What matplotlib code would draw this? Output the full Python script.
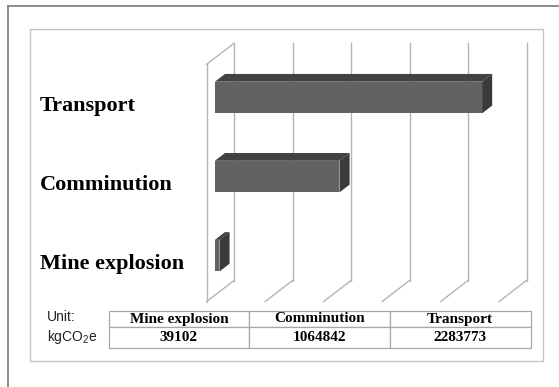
import matplotlib
matplotlib.use('Agg')
import matplotlib.pyplot as plt
from matplotlib.patches import Polygon, Rectangle
from matplotlib.lines import Line2D
import matplotlib.transforms as mtransforms

# ---- data ----
categories = ['Mine explosion', 'Comminution', 'Transport']
values = [39102, 1064842, 2283773]
x_ticks = [0, 500000, 1000000, 1500000, 2000000, 2500000]
unit_lines = ['Unit:', 'kgCO$_2$e']

plt.rcParams['mathtext.fontset'] = 'custom'
plt.rcParams['mathtext.rm'] = 'Liberation Sans'
plt.rcParams['mathtext.it'] = 'Liberation Sans'
plt.rcParams['mathtext.default'] = 'regular'

W, H, DPI = 559, 387, 100
fig = plt.figure(figsize=(W / DPI, H / DPI), dpi=DPI)
fig.patch.set_facecolor('white')


def fx(px):
    return px / W


def fy(py):
    return 1 - py / H


# outer and inner frames
fig.add_artist(Line2D([fx(8), fx(8)], [fy(5.5), 0], transform=fig.transFigure,
                      color='#8c8c8c', lw=1.4))
fig.add_artist(Line2D([fx(8), 1], [fy(5.5), fy(5.5)], transform=fig.transFigure,
                      color='#8c8c8c', lw=1.4))
fig.add_artist(Rectangle((fx(30), fy(360.7)), fx(543) - fx(30), fy(29.3) - fy(360.7),
                         transform=fig.transFigure, fill=False, ec='#c4c4c4', lw=1.0))

# main (front-plane) axes
ax = fig.add_axes([fx(206.7), fy(301.5), fx(499.2) - fx(206.7), fy(64.3) - fy(301.5)])
ax.set_xlim(x_ticks[0], x_ticks[-1])
ax.set_ylim(0, len(categories))
ax.axis('off')

# depth vector (pixels) converted to data units
px_per_x = ax.bbox.width / (x_ticks[-1] - x_ticks[0])
px_per_y = ax.bbox.height / len(categories)
DX = 27.3 / px_per_x
DY = 21.0 / px_per_y
ymax = len(categories)

grid_kw = dict(color='#b4b4b4', lw=1.0, clip_on=False, zorder=1)
for v in x_ticks:
    ax.plot([v + DX, v + DX], [DY, ymax + DY], **grid_kw)
    ax.plot([v, v + DX], [0, DY], **grid_kw)
# left wall front edges
ax.plot([x_ticks[0], x_ticks[0]], [0, ymax], **grid_kw)
ax.plot([x_ticks[0], x_ticks[0] + DX], [ymax, ymax + DY], **grid_kw)

# 3D bars
d0, d1 = 0.30, 0.67
bh = 0.40
dd = d1 - d0
front_c, top_c, side_c = '#626262', '#424242', '#3a3a3a'
for i, v in enumerate(values):
    yc = i + 0.5 + d0 * DY
    x0 = x_ticks[0] + d0 * DX
    ax.barh(yc, v, left=x0, height=bh, color=front_c, edgecolor='none',
            clip_on=False, zorder=3)
    yt, yb = yc + bh / 2, yc - bh / 2
    top = [(x0, yt), (x0 + v, yt), (x0 + v + dd * DX, yt + dd * DY), (x0 + dd * DX, yt + dd * DY)]
    side = [(x0 + v, yb), (x0 + v, yt), (x0 + v + dd * DX, yt + dd * DY), (x0 + v + dd * DX, yb + dd * DY)]
    ax.add_patch(Polygon(top, closed=True, fc=top_c, ec='none', clip_on=False, zorder=3))
    ax.add_patch(Polygon(side, closed=True, fc=side_c, ec='none', clip_on=False, zorder=3))
    # category label
    tr = mtransforms.blended_transform_factory(fig.transFigure, ax.transData)
    tr = mtransforms.offset_copy(tr, fig=fig, x=0, y=-13.5, units='dots')
    ax.text(fx(40), yc, categories[i], transform=tr, ha='left', va='baseline',
            fontsize=16, fontweight='bold', family='Liberation Serif', color='black',
            clip_on=False)

# data table
tax = fig.add_axes([fx(108.5), fy(348), fx(530.5) - fx(108.5), fy(310.7) - fy(348)])
tax.axis('off')
tbl = tax.table(cellText=[[str(v) for v in values]], colLabels=categories,
                cellLoc='center', bbox=[0, 0, 1, 1])
tbl.auto_set_font_size(False)
tbl.set_fontsize(11)
for (r, c), cell in tbl.get_celld().items():
    cell.set_edgecolor('#a8a8a8')
    cell.set_linewidth(0.9)
    cell.set_height(0.166 if r == 0 else 0.207)
    cell.get_text().set_fontweight('bold')
    cell.get_text().set_fontfamily('Liberation Serif')

# unit text
fig.text(fx(46.7), fy(317), unit_lines[0], ha='left', va='center', fontsize=10,
         family='Liberation Sans', color='#222222')
fig.text(fx(46.7), fy(337.3), unit_lines[1], ha='left', va='center', fontsize=10,
         family='Liberation Sans', color='#222222')

fig.savefig('out.png', dpi=DPI, facecolor='white')
